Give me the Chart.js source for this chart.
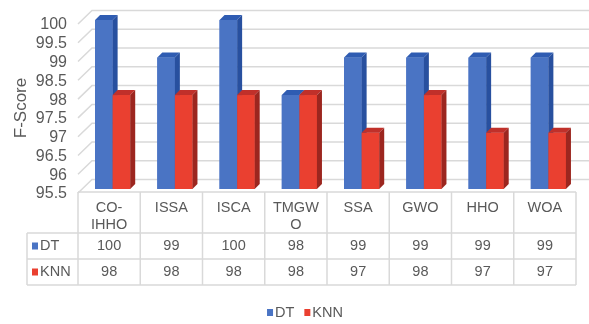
<!DOCTYPE html>
<html>
<head>
<meta charset="utf-8">
<script src="https://cdn.jsdelivr.net/npm/chart.js@4/dist/chart.umd.min.js"></script>
<style>
  html, body { margin: 0; padding: 0; background: #ffffff; }
  #wrap { width: 589px; height: 324px; }
</style>
</head>
<body>
<div id="wrap"><canvas id="c" width="589" height="324"></canvas></div>
<script>
// Classifier F-scores per feature-selection method
const categories = [["CO-", "IHHO"], "ISSA", "ISCA", ["TMGW", "O"], "SSA", "GWO", "HHO", "WOA"];
const dtScores = [100, 99, 100, 98, 99, 99, 99, 99];
const knnScores = [98, 98, 98, 98, 97, 98, 97, 97];
const seriesNames = ["DT", "KNN"];
const yTicks = [95.5, 96, 96.5, 97, 97.5, 98, 98.5, 99, 99.5, 100];

// Styling
const TEXT = '#595959';
const GRID = '#d9d9d9';
const FONT = '"Liberation Sans", Arial, sans-serif';
const palette = [
  { front: '#4a74c4', top: '#2f5cb2', side: '#28509f' },
  { front: '#ea4030', top: '#c0302a', side: '#9c261f' }
];
const DEPTH_X = 5, DEPTH_Y = 5;   // bar extrusion
const BAR_SHIFT = 3.5;            // bars sit slightly behind the front plane
const WALL_X = 14, WALL_FRONT = 4, WALL_BACK = -9.5;

function rowValues(i) { return i === 0 ? dtScores : knnScores; }

const scene3d = {
  id: 'scene3d',
  beforeDatasetsDraw(chart) {
    const { ctx, chartArea: a, scales: { y } } = chart;
    const W = chart.width;
    ctx.save();
    ctx.strokeStyle = GRID;
    ctx.lineWidth = 1.5;
    // side wall and back wall gridlines
    yTicks.forEach(v => {
      const py = y.getPixelForValue(v);
      ctx.beginPath();
      ctx.moveTo(a.left, py + WALL_FRONT);
      ctx.lineTo(a.left + WALL_X, py + WALL_BACK);
      ctx.lineTo(W, py + WALL_BACK);
      ctx.stroke();
    });
    ctx.restore();
    ctx.save();
    ctx.translate(BAR_SHIFT, 0);
  },
  afterDatasetsDraw(chart) {
    const ctx = chart.ctx;
    const metas = [0, 1].map(i => chart.getDatasetMeta(i));
    const n = categories.length;
    // paint each group back-to-front: DT box, then KNN box
    for (let i = 0; i < n; i++) {
      metas.forEach((meta, d) => {
        const el = meta.data[i];
        if (!el) return;
        const col = palette[d];
        const p = el.getProps(['x', 'y', 'base', 'width'], true);
        const l = p.x - p.width / 2, r = p.x + p.width / 2;
        const t = Math.min(p.y, p.base), b = Math.max(p.y, p.base);
        ctx.fillStyle = col.front;
        ctx.fillRect(l, t, r - l, b - t);
        ctx.fillStyle = col.top;
        ctx.beginPath();
        ctx.moveTo(l, t);
        ctx.lineTo(l + DEPTH_X, t - DEPTH_Y);
        ctx.lineTo(r + DEPTH_X, t - DEPTH_Y);
        ctx.lineTo(r, t);
        ctx.closePath();
        ctx.fill();
        ctx.fillStyle = col.side;
        ctx.beginPath();
        ctx.moveTo(r, t);
        ctx.lineTo(r + DEPTH_X, t - DEPTH_Y);
        ctx.lineTo(r + DEPTH_X, b - DEPTH_Y);
        ctx.lineTo(r, b);
        ctx.closePath();
        ctx.fill();
      });
    }
    ctx.restore();
  },
  afterDraw(chart) {
    const { ctx, chartArea: a, scales: { x, y } } = chart;
    ctx.save();
    // y tick labels
    ctx.fillStyle = TEXT;
    ctx.font = '16px ' + FONT;
    ctx.textAlign = 'right';
    ctx.textBaseline = 'middle';
    yTicks.forEach(v => {
      ctx.fillText(String(v), 67, y.getPixelForValue(v) + 5);
    });
    // axis title
    ctx.save();
    ctx.translate(21, 108);
    ctx.rotate(-Math.PI / 2);
    ctx.textAlign = 'center';
    ctx.font = '17px ' + FONT;
    ctx.fillText('F-Score', 0, 0);
    ctx.restore();

    // data table
    const floorY = a.bottom + 3;
    const headTop = floorY, rowTop = 233, rowH = 26, tableLeft = 27;
    const bottom = rowTop + rowH * 2;
    const n = categories.length;
    const colW = (a.right - a.left) / n;
    ctx.strokeStyle = GRID;
    ctx.lineWidth = 1.5;
    ctx.beginPath();
    ctx.moveTo(a.left, headTop); ctx.lineTo(a.right, headTop);
    for (let r = 0; r <= 2; r++) {
      ctx.moveTo(tableLeft, rowTop + r * rowH);
      ctx.lineTo(a.right, rowTop + r * rowH);
    }
    ctx.moveTo(tableLeft, rowTop); ctx.lineTo(tableLeft, bottom);
    for (let i = 0; i <= n; i++) {
      const bx = a.left + i * colW;
      ctx.moveTo(bx, headTop); ctx.lineTo(bx, bottom);
    }
    ctx.stroke();

    ctx.fillStyle = TEXT;
    ctx.font = '14.5px ' + FONT;
    ctx.textAlign = 'center';
    ctx.textBaseline = 'middle';
    categories.forEach((c, i) => {
      const cx = x.getPixelForValue(i);
      const lines = Array.isArray(c) ? c : [c];
      lines.forEach((ln, k) => ctx.fillText(ln, cx, 208 + k * 17));
    });
    seriesNames.forEach((name, r) => {
      const cy = rowTop + r * rowH + rowH / 2;
      ctx.fillStyle = palette[r].front;
      ctx.fillRect(32, cy - 3.5, 6, 7);
      ctx.fillStyle = TEXT;
      ctx.textAlign = 'left';
      ctx.fillText(name, 40, cy);
      ctx.textAlign = 'center';
      rowValues(r).forEach((v, i) => ctx.fillText(String(v), x.getPixelForValue(i), cy));
    });

    // legend
    ctx.font = '14.5px ' + FONT;
    const gap = 10, box = 6, pad = 2;
    const widths = seriesNames.map(s => ctx.measureText(s).width);
    const total = widths.reduce((s, w) => s + box + pad + w, 0) + gap;
    let lx = 305 - total / 2;
    const ly = 312.5;
    seriesNames.forEach((s, i) => {
      ctx.fillStyle = palette[i].front;
      ctx.fillRect(lx, ly - 3.5, box, 7);
      ctx.fillStyle = TEXT;
      ctx.textAlign = 'left';
      ctx.fillText(s, lx + box + pad, ly);
      lx += box + pad + widths[i] + gap;
    });
    ctx.restore();
  }
};

new Chart(document.getElementById('c'), {
  type: 'bar',
  data: {
    labels: categories,
    datasets: [
      { label: seriesNames[0], data: dtScores, backgroundColor: palette[0].front, base: 95.5 },
      { label: seriesNames[1], data: knnScores, backgroundColor: palette[1].front, base: 95.5 }
    ]
  },
  options: {
    responsive: false,
    devicePixelRatio: 1,
    animation: false,
    layout: { padding: { left: 78, right: 13, top: 20, bottom: 135 } },
    datasets: { bar: { categoryPercentage: 0.565, barPercentage: 1 } },
    scales: {
      x: { display: false },
      y: { display: false, min: 95.5, max: 100 }
    },
    plugins: { legend: { display: false }, tooltip: { enabled: false } }
  },
  plugins: [scene3d]
});
</script>
</body>
</html>
